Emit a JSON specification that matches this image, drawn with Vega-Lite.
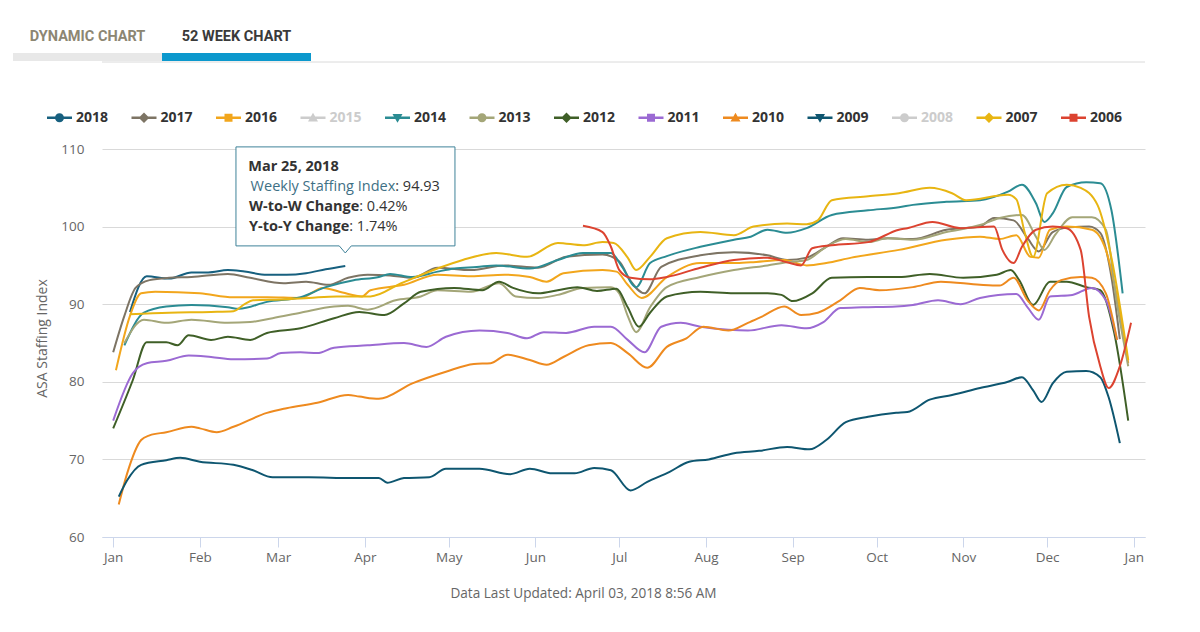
{
  "width": 1043,
  "height": 388,
  "autosize": {"type": "none"},
  "padding": {"left": 102, "top": 149, "right": 55, "bottom": 95},
  "background": "#ffffff",
  "config": {"view": {"stroke": null}, "font": "Open Sans"},
  "datasets": {
    "tabs": [
      {"tab": "DYNAMIC CHART", "active": false},
      {"tab": "52 WEEK CHART", "active": true}
    ],
    "tip": [
      {"day": 83, "v": 94.93, "date": "Mar 25, 2018", "wsiLabel": "Weekly Staffing Index", "wsi": ": 94.93", "wwLabel": "W-to-W Change", "ww": ": 0.42%", "yyLabel": "Y-to-Y Change", "yy": ": 1.74%"}
    ],
    "series": [
      {"year":"2018","day":6,"v":89.0},{"year":"2018","day":12,"v":93.6},{"year":"2018","day":20,"v":93.3},{"year":"2018","day":28,"v":94.1},{"year":"2018","day":34,"v":94.1},{"year":"2018","day":41,"v":94.4},{"year":"2018","day":47,"v":94.2},{"year":"2018","day":55,"v":93.8},{"year":"2018","day":62,"v":93.8},{"year":"2018","day":69,"v":94.0},{"year":"2018","day":76,"v":94.5},{"year":"2018","day":83,"v":94.93},

      {"year":"2017","day":0,"v":83.8},{"year":"2017","day":4,"v":88.5},{"year":"2017","day":8,"v":92.1},{"year":"2017","day":13,"v":93.1},{"year":"2017","day":20,"v":93.4},{"year":"2017","day":28,"v":93.5},{"year":"2017","day":41,"v":93.9},{"year":"2017","day":49,"v":93.4},{"year":"2017","day":61,"v":92.7},{"year":"2017","day":69,"v":92.9},{"year":"2017","day":77,"v":92.5},{"year":"2017","day":84,"v":93.4},{"year":"2017","day":91,"v":93.8},{"year":"2017","day":99,"v":93.7},{"year":"2017","day":107,"v":93.4},{"year":"2017","day":116,"v":94.7},{"year":"2017","day":128,"v":94.4},{"year":"2017","day":140,"v":95.0},{"year":"2017","day":152,"v":94.7},{"year":"2017","day":162,"v":96.1},{"year":"2017","day":175,"v":96.4},{"year":"2017","day":181,"v":95.5},{"year":"2017","day":185,"v":93.0},{"year":"2017","day":190,"v":91.4},{"year":"2017","day":196,"v":94.8},{"year":"2017","day":210,"v":96.3},{"year":"2017","day":222,"v":96.7},{"year":"2017","day":234,"v":96.3},{"year":"2017","day":241,"v":95.7},{"year":"2017","day":248,"v":96.0},{"year":"2017","day":255,"v":97.4},{"year":"2017","day":261,"v":98.5},{"year":"2017","day":270,"v":98.3},{"year":"2017","day":277,"v":98.5},{"year":"2017","day":286,"v":98.4},{"year":"2017","day":298,"v":99.6},{"year":"2017","day":310,"v":100.0},{"year":"2017","day":315,"v":101.1},{"year":"2017","day":322,"v":100.8},{"year":"2017","day":327,"v":98.5},{"year":"2017","day":331,"v":96.8},{"year":"2017","day":336,"v":99.3},{"year":"2017","day":342,"v":99.9},{"year":"2017","day":349,"v":100.0},{"year":"2017","day":353,"v":99.2},{"year":"2017","day":357,"v":93.5},{"year":"2017","day":360,"v":85.5},

      {"year":"2016","day":1,"v":81.5},{"year":"2016","day":6,"v":88.5},{"year":"2016","day":10,"v":91.4},{"year":"2016","day":15,"v":91.6},{"year":"2016","day":31,"v":91.4},{"year":"2016","day":43,"v":90.9},{"year":"2016","day":55,"v":90.9},{"year":"2016","day":67,"v":90.8},{"year":"2016","day":75,"v":92.1},{"year":"2016","day":82,"v":91.5},{"year":"2016","day":89,"v":91.0},{"year":"2016","day":92,"v":91.8},{"year":"2016","day":104,"v":92.5},{"year":"2016","day":116,"v":93.8},{"year":"2016","day":128,"v":93.6},{"year":"2016","day":140,"v":93.8},{"year":"2016","day":149,"v":93.5},{"year":"2016","day":155,"v":92.9},{"year":"2016","day":161,"v":94.0},{"year":"2016","day":175,"v":94.4},{"year":"2016","day":180,"v":94.2},{"year":"2016","day":184,"v":92.5},{"year":"2016","day":189,"v":90.8},{"year":"2016","day":198,"v":93.5},{"year":"2016","day":210,"v":95.3},{"year":"2016","day":222,"v":95.3},{"year":"2016","day":228,"v":95.4},{"year":"2016","day":240,"v":95.7},{"year":"2016","day":248,"v":95.0},{"year":"2016","day":255,"v":95.3},{"year":"2016","day":264,"v":96.0},{"year":"2016","day":281,"v":97.0},{"year":"2016","day":298,"v":98.3},{"year":"2016","day":310,"v":98.7},{"year":"2016","day":317,"v":98.4},{"year":"2016","day":323,"v":98.9},{"year":"2016","day":328,"v":96.1},{"year":"2016","day":331,"v":96.0},{"year":"2016","day":335,"v":99.6},{"year":"2016","day":341,"v":100.0},{"year":"2016","day":350,"v":99.6},{"year":"2016","day":355,"v":97.0},{"year":"2016","day":358,"v":92.7},{"year":"2016","day":363,"v":82.4},

      {"year":"2014","day":4,"v":84.7},{"year":"2014","day":11,"v":88.9},{"year":"2014","day":19,"v":89.7},{"year":"2014","day":28,"v":89.9},{"year":"2014","day":41,"v":89.6},{"year":"2014","day":45,"v":89.4},{"year":"2014","day":55,"v":90.3},{"year":"2014","day":67,"v":90.9},{"year":"2014","day":76,"v":92.2},{"year":"2014","day":86,"v":93.1},{"year":"2014","day":95,"v":93.5},{"year":"2014","day":99,"v":93.9},{"year":"2014","day":107,"v":93.5},{"year":"2014","day":116,"v":94.2},{"year":"2014","day":122,"v":94.6},{"year":"2014","day":130,"v":94.8},{"year":"2014","day":137,"v":95.0},{"year":"2014","day":149,"v":94.6},{"year":"2014","day":159,"v":95.7},{"year":"2014","day":168,"v":96.6},{"year":"2014","day":178,"v":96.6},{"year":"2014","day":182,"v":94.8},{"year":"2014","day":187,"v":92.2},{"year":"2014","day":192,"v":95.3},{"year":"2014","day":198,"v":96.2},{"year":"2014","day":210,"v":97.4},{"year":"2014","day":222,"v":98.3},{"year":"2014","day":228,"v":98.7},{"year":"2014","day":234,"v":99.6},{"year":"2014","day":241,"v":99.2},{"year":"2014","day":248,"v":99.8},{"year":"2014","day":257,"v":101.5},{"year":"2014","day":270,"v":102.1},{"year":"2014","day":281,"v":102.5},{"year":"2014","day":286,"v":102.8},{"year":"2014","day":298,"v":103.2},{"year":"2014","day":310,"v":103.4},{"year":"2014","day":320,"v":104.5},{"year":"2014","day":325,"v":105.4},{"year":"2014","day":330,"v":103.0},{"year":"2014","day":333,"v":100.6},{"year":"2014","day":336,"v":101.7},{"year":"2014","day":341,"v":105.1},{"year":"2014","day":348,"v":105.7},{"year":"2014","day":353,"v":105.6},{"year":"2014","day":357,"v":102.1},{"year":"2014","day":361,"v":91.4},

      {"year":"2013","day":4,"v":85.0},{"year":"2013","day":11,"v":88.0},{"year":"2013","day":19,"v":87.6},{"year":"2013","day":28,"v":88.0},{"year":"2013","day":41,"v":87.6},{"year":"2013","day":49,"v":87.7},{"year":"2013","day":57,"v":88.2},{"year":"2013","day":67,"v":88.9},{"year":"2013","day":79,"v":89.7},{"year":"2013","day":84,"v":89.8},{"year":"2013","day":91,"v":89.3},{"year":"2013","day":101,"v":90.5},{"year":"2013","day":110,"v":91.0},{"year":"2013","day":116,"v":91.8},{"year":"2013","day":128,"v":91.6},{"year":"2013","day":138,"v":92.7},{"year":"2013","day":144,"v":91.0},{"year":"2013","day":152,"v":90.8},{"year":"2013","day":159,"v":91.2},{"year":"2013","day":168,"v":92.1},{"year":"2013","day":178,"v":92.2},{"year":"2013","day":181,"v":91.4},{"year":"2013","day":184,"v":88.5},{"year":"2013","day":187,"v":86.4},{"year":"2013","day":192,"v":89.6},{"year":"2013","day":198,"v":92.2},{"year":"2013","day":210,"v":93.5},{"year":"2013","day":222,"v":94.4},{"year":"2013","day":234,"v":95.0},{"year":"2013","day":241,"v":95.4},{"year":"2013","day":248,"v":95.7},{"year":"2013","day":255,"v":97.4},{"year":"2013","day":262,"v":98.4},{"year":"2013","day":270,"v":98.0},{"year":"2013","day":277,"v":98.5},{"year":"2013","day":286,"v":98.3},{"year":"2013","day":298,"v":99.3},{"year":"2013","day":310,"v":100.2},{"year":"2013","day":317,"v":101.1},{"year":"2013","day":325,"v":101.5},{"year":"2013","day":330,"v":98.7},{"year":"2013","day":333,"v":97.0},{"year":"2013","day":337,"v":99.0},{"year":"2013","day":343,"v":101.2},{"year":"2013","day":350,"v":101.2},{"year":"2013","day":355,"v":99.6},{"year":"2013","day":359,"v":90.0},{"year":"2013","day":363,"v":82.0},

      {"year":"2012","day":0,"v":74.0},{"year":"2012","day":7,"v":80.2},{"year":"2012","day":12,"v":85.1},{"year":"2012","day":19,"v":85.1},{"year":"2012","day":23,"v":84.7},{"year":"2012","day":27,"v":86.0},{"year":"2012","day":35,"v":85.4},{"year":"2012","day":41,"v":85.8},{"year":"2012","day":49,"v":85.4},{"year":"2012","day":55,"v":86.3},{"year":"2012","day":67,"v":86.9},{"year":"2012","day":79,"v":88.2},{"year":"2012","day":88,"v":89.0},{"year":"2012","day":97,"v":88.6},{"year":"2012","day":104,"v":90.1},{"year":"2012","day":110,"v":91.6},{"year":"2012","day":122,"v":92.1},{"year":"2012","day":132,"v":91.8},{"year":"2012","day":138,"v":92.9},{"year":"2012","day":143,"v":92.1},{"year":"2012","day":152,"v":91.4},{"year":"2012","day":159,"v":91.8},{"year":"2012","day":166,"v":92.2},{"year":"2012","day":173,"v":91.7},{"year":"2012","day":180,"v":92.0},{"year":"2012","day":184,"v":89.6},{"year":"2012","day":188,"v":87.1},{"year":"2012","day":192,"v":88.9},{"year":"2012","day":198,"v":91.0},{"year":"2012","day":210,"v":91.6},{"year":"2012","day":222,"v":91.4},{"year":"2012","day":234,"v":91.4},{"year":"2012","day":239,"v":91.2},{"year":"2012","day":243,"v":90.4},{"year":"2012","day":250,"v":91.4},{"year":"2012","day":257,"v":93.4},{"year":"2012","day":270,"v":93.5},{"year":"2012","day":281,"v":93.5},{"year":"2012","day":292,"v":93.9},{"year":"2012","day":304,"v":93.4},{"year":"2012","day":316,"v":93.8},{"year":"2012","day":321,"v":94.4},{"year":"2012","day":324,"v":93.1},{"year":"2012","day":329,"v":89.9},{"year":"2012","day":335,"v":92.9},{"year":"2012","day":341,"v":92.9},{"year":"2012","day":348,"v":92.2},{"year":"2012","day":353,"v":91.8},{"year":"2012","day":358,"v":86.3},{"year":"2012","day":363,"v":75.0},

      {"year":"2011","day":0,"v":75.0},{"year":"2011","day":7,"v":81.1},{"year":"2011","day":12,"v":82.4},{"year":"2011","day":19,"v":82.7},{"year":"2011","day":27,"v":83.4},{"year":"2011","day":35,"v":83.2},{"year":"2011","day":43,"v":82.9},{"year":"2011","day":55,"v":83.0},{"year":"2011","day":60,"v":83.7},{"year":"2011","day":67,"v":83.8},{"year":"2011","day":73,"v":83.7},{"year":"2011","day":79,"v":84.4},{"year":"2011","day":91,"v":84.7},{"year":"2011","day":104,"v":85.0},{"year":"2011","day":112,"v":84.5},{"year":"2011","day":119,"v":85.8},{"year":"2011","day":131,"v":86.6},{"year":"2011","day":141,"v":86.3},{"year":"2011","day":148,"v":85.6},{"year":"2011","day":154,"v":86.4},{"year":"2011","day":162,"v":86.3},{"year":"2011","day":172,"v":87.1},{"year":"2011","day":178,"v":87.1},{"year":"2011","day":184,"v":85.4},{"year":"2011","day":190,"v":83.8},{"year":"2011","day":196,"v":87.1},{"year":"2011","day":203,"v":87.6},{"year":"2011","day":210,"v":87.1},{"year":"2011","day":220,"v":86.7},{"year":"2011","day":227,"v":86.6},{"year":"2011","day":239,"v":87.3},{"year":"2011","day":248,"v":86.9},{"year":"2011","day":254,"v":87.7},{"year":"2011","day":260,"v":89.5},{"year":"2011","day":268,"v":89.6},{"year":"2011","day":280,"v":89.7},{"year":"2011","day":286,"v":89.9},{"year":"2011","day":295,"v":90.5},{"year":"2011","day":303,"v":90.0},{"year":"2011","day":310,"v":90.8},{"year":"2011","day":323,"v":91.3},{"year":"2011","day":327,"v":89.6},{"year":"2011","day":331,"v":88.0},{"year":"2011","day":335,"v":91.0},{"year":"2011","day":343,"v":91.2},{"year":"2011","day":350,"v":92.1},{"year":"2011","day":355,"v":90.5},{"year":"2011","day":359,"v":85.4},

      {"year":"2010","day":2,"v":64.2},{"year":"2010","day":5,"v":68.2},{"year":"2010","day":10,"v":72.5},{"year":"2010","day":13,"v":73.1},{"year":"2010","day":19,"v":73.5},{"year":"2010","day":28,"v":74.2},{"year":"2010","day":31,"v":74.0},{"year":"2010","day":37,"v":73.5},{"year":"2010","day":43,"v":74.2},{"year":"2010","day":55,"v":76.0},{"year":"2010","day":62,"v":76.6},{"year":"2010","day":73,"v":77.3},{"year":"2010","day":84,"v":78.3},{"year":"2010","day":88,"v":78.1},{"year":"2010","day":95,"v":77.8},{"year":"2010","day":107,"v":79.8},{"year":"2010","day":119,"v":81.3},{"year":"2010","day":129,"v":82.3},{"year":"2010","day":135,"v":82.4},{"year":"2010","day":141,"v":83.5},{"year":"2010","day":149,"v":82.8},{"year":"2010","day":155,"v":82.2},{"year":"2010","day":161,"v":83.2},{"year":"2010","day":170,"v":84.7},{"year":"2010","day":178,"v":85.0},{"year":"2010","day":184,"v":83.7},{"year":"2010","day":191,"v":81.8},{"year":"2010","day":198,"v":84.5},{"year":"2010","day":205,"v":85.6},{"year":"2010","day":211,"v":87.1},{"year":"2010","day":220,"v":86.6},{"year":"2010","day":227,"v":87.6},{"year":"2010","day":232,"v":88.4},{"year":"2010","day":240,"v":89.7},{"year":"2010","day":246,"v":88.6},{"year":"2010","day":252,"v":88.9},{"year":"2010","day":260,"v":90.5},{"year":"2010","day":267,"v":92.1},{"year":"2010","day":274,"v":91.8},{"year":"2010","day":286,"v":92.2},{"year":"2010","day":296,"v":92.9},{"year":"2010","day":310,"v":92.5},{"year":"2010","day":317,"v":92.4},{"year":"2010","day":322,"v":93.4},{"year":"2010","day":327,"v":90.5},{"year":"2010","day":331,"v":89.2},{"year":"2010","day":335,"v":91.8},{"year":"2010","day":339,"v":93.1},{"year":"2010","day":346,"v":93.5},{"year":"2010","day":350,"v":93.4},{"year":"2010","day":355,"v":91.4},{"year":"2010","day":359,"v":85.4},

      {"year":"2009","day":2,"v":65.2},{"year":"2009","day":5,"v":67.3},{"year":"2009","day":10,"v":69.3},{"year":"2009","day":19,"v":69.9},{"year":"2009","day":24,"v":70.2},{"year":"2009","day":31,"v":69.7},{"year":"2009","day":43,"v":69.3},{"year":"2009","day":50,"v":68.6},{"year":"2009","day":57,"v":67.7},{"year":"2009","day":70,"v":67.7},{"year":"2009","day":85,"v":67.6},{"year":"2009","day":95,"v":67.6},{"year":"2009","day":98,"v":67.0},{"year":"2009","day":104,"v":67.6},{"year":"2009","day":113,"v":67.7},{"year":"2009","day":119,"v":68.8},{"year":"2009","day":131,"v":68.8},{"year":"2009","day":142,"v":68.1},{"year":"2009","day":149,"v":68.8},{"year":"2009","day":157,"v":68.2},{"year":"2009","day":165,"v":68.2},{"year":"2009","day":172,"v":68.9},{"year":"2009","day":178,"v":68.6},{"year":"2009","day":185,"v":66.0},{"year":"2009","day":191,"v":67.1},{"year":"2009","day":199,"v":68.4},{"year":"2009","day":206,"v":69.7},{"year":"2009","day":213,"v":70.0},{"year":"2009","day":222,"v":70.8},{"year":"2009","day":231,"v":71.1},{"year":"2009","day":241,"v":71.6},{"year":"2009","day":249,"v":71.3},{"year":"2009","day":255,"v":72.5},{"year":"2009","day":262,"v":74.8},{"year":"2009","day":270,"v":75.5},{"year":"2009","day":280,"v":76.0},{"year":"2009","day":284,"v":76.1},{"year":"2009","day":292,"v":77.7},{"year":"2009","day":300,"v":78.3},{"year":"2009","day":310,"v":79.2},{"year":"2009","day":320,"v":80.0},{"year":"2009","day":325,"v":80.6},{"year":"2009","day":329,"v":78.9},{"year":"2009","day":332,"v":77.4},{"year":"2009","day":336,"v":79.8},{"year":"2009","day":341,"v":81.3},{"year":"2009","day":348,"v":81.4},{"year":"2009","day":353,"v":80.6},{"year":"2009","day":356,"v":78.0},{"year":"2009","day":360,"v":72.1},

      {"year":"2007","day":6,"v":88.7},{"year":"2007","day":20,"v":88.9},{"year":"2007","day":35,"v":89.0},{"year":"2007","day":43,"v":89.1},{"year":"2007","day":47,"v":90.0},{"year":"2007","day":50,"v":90.5},{"year":"2007","day":60,"v":90.6},{"year":"2007","day":70,"v":90.8},{"year":"2007","day":80,"v":91.0},{"year":"2007","day":92,"v":91.0},{"year":"2007","day":103,"v":92.7},{"year":"2007","day":116,"v":94.6},{"year":"2007","day":125,"v":95.7},{"year":"2007","day":137,"v":96.6},{"year":"2007","day":148,"v":96.1},{"year":"2007","day":159,"v":97.9},{"year":"2007","day":168,"v":97.6},{"year":"2007","day":175,"v":98.0},{"year":"2007","day":179,"v":97.9},{"year":"2007","day":184,"v":96.0},{"year":"2007","day":187,"v":94.4},{"year":"2007","day":192,"v":96.1},{"year":"2007","day":198,"v":98.5},{"year":"2007","day":210,"v":99.3},{"year":"2007","day":222,"v":98.9},{"year":"2007","day":229,"v":100.0},{"year":"2007","day":241,"v":100.4},{"year":"2007","day":248,"v":100.3},{"year":"2007","day":252,"v":100.8},{"year":"2007","day":257,"v":103.4},{"year":"2007","day":270,"v":103.9},{"year":"2007","day":281,"v":104.3},{"year":"2007","day":292,"v":105.0},{"year":"2007","day":300,"v":104.3},{"year":"2007","day":305,"v":103.4},{"year":"2007","day":320,"v":104.1},{"year":"2007","day":323,"v":103.5},{"year":"2007","day":326,"v":99.2},{"year":"2007","day":329,"v":96.1},{"year":"2007","day":334,"v":104.3},{"year":"2007","day":341,"v":105.4},{"year":"2007","day":346,"v":105.0},{"year":"2007","day":352,"v":102.8},{"year":"2007","day":357,"v":96.0},{"year":"2007","day":363,"v":82.8},

      {"year":"2006","day":168,"v":100.1},{"year":"2006","day":175,"v":99.3},{"year":"2006","day":178,"v":97.4},{"year":"2006","day":181,"v":94.4},{"year":"2006","day":185,"v":93.4},{"year":"2006","day":192,"v":93.2},{"year":"2006","day":198,"v":93.5},{"year":"2006","day":210,"v":94.7},{"year":"2006","day":222,"v":95.7},{"year":"2006","day":234,"v":96.0},{"year":"2006","day":241,"v":95.4},{"year":"2006","day":246,"v":95.0},{"year":"2006","day":250,"v":97.2},{"year":"2006","day":257,"v":97.6},{"year":"2006","day":270,"v":98.0},{"year":"2006","day":281,"v":99.6},{"year":"2006","day":284,"v":99.8},{"year":"2006","day":293,"v":100.6},{"year":"2006","day":303,"v":99.8},{"year":"2006","day":315,"v":100.0},{"year":"2006","day":318,"v":97.0},{"year":"2006","day":322,"v":95.3},{"year":"2006","day":325,"v":97.4},{"year":"2006","day":330,"v":99.6},{"year":"2006","day":336,"v":100.0},{"year":"2006","day":341,"v":99.8},{"year":"2006","day":346,"v":97.0},{"year":"2006","day":349,"v":88.4},{"year":"2006","day":353,"v":82.0},{"year":"2006","day":356,"v":79.2},{"year":"2006","day":360,"v":82.0},{"year":"2006","day":364,"v":87.6}
    ]
  },
  "resolve": {"scale": {"x": "independent", "y": "independent"}},
  "layer": [
    {
      "data": {"name": "series"},
      "encoding": {
        "x": {
          "field": "day", "type": "quantitative",
          "scale": {"domain": [-4, 369], "nice": false, "zero": false},
          "axis": {
            "orient": "bottom",
            "values": [0, 31, 59, 90, 120, 151, 181, 212, 243, 273, 304, 334, 365],
            "labelExpr": "['Jan','Feb','Mar','Apr','May','Jun','Jul','Aug','Sep','Oct','Nov','Dec','Jan'][indexof([0,31,59,90,120,151,181,212,243,273,304,334,365], datum.value)]",
            "grid": false,
            "domainColor": "#ccd6eb", "tickColor": "#ccd6eb", "tickSize": 10,
            "labelPadding": 3, "labelFontSize": 13.5, "labelColor": "#666666", "labelFlush": false,
            "title": "Data Last Updated: April 03, 2018 8:56 AM",
            "titleX": 481, "titleY": 56, "titleAlign": "center", "titleBaseline": "middle",
            "titleFontSize": 13.6, "titleFontWeight": "normal", "titleColor": "#666666"
          }
        },
        "y": {
          "field": "v", "type": "quantitative",
          "scale": {"domain": [60, 110], "nice": false, "zero": false},
          "axis": {
            "orient": "left",
            "values": [60, 70, 80, 90, 100, 110],
            "grid": true, "gridColor": "#d9d9d9",
            "domain": false, "ticks": false,
            "labelPadding": 18, "labelFontSize": 13.5, "labelColor": "#666666",
            "title": "ASA Staffing Index",
            "titleX": -60, "titleY": 189, "titleAngle": -90, "titleAlign": "center", "titleBaseline": "middle",
            "titleFontSize": 14, "titleFontWeight": "normal", "titleColor": "#666666"
          }
        }
      },
      "layer": [
        {
          "mark": {"type": "line", "strokeWidth": 2, "interpolate": "monotone"},
          "encoding": {
            "color": {
              "field": "year", "type": "nominal",
              "scale": {
                "domain": ["2018","2017","2016","2015","2014","2013","2012","2011","2010","2009","2008","2007","2006"],
                "range": ["#17607f","#7d7464","#f2a61c","#cccccc","#2b8c93","#a4a678","#3f5f27","#9b6ad3","#ee8a1f","#0e5670","#cccccc","#e8b512","#dc4330"]
              },
              "legend": {
                "orient": "none", "legendX": -55, "legendY": -44, "direction": "horizontal", "columns": 13,
                "title": null, "padding": 0, "symbolSize": 625, "symbolStrokeWidth": 0, "symbolOpacity": 1,
                "labelFontSize": 14, "labelFontWeight": "bold", "labelColor": "#333333", "labelFont": "Open Sans",
                "labelOffset": 4, "columnPadding": 22.5, "gridAlign": "all",
                "encode": {
                  "labels": {"update": {"fill": {"signal": "indexof(['2015','2008'], datum.value) >= 0 ? '#cccccc' : '#333333'"}}},
                  "symbols": {"update": {
                    "fill": {"scale": "color", "field": "value"},
                    "stroke": {"value": "transparent"},
                    "strokeWidth": {"value": 0},
                    "opacity": {"value": 1},
                    "size": {"value": 625},
                    "shape": {"signal": "['M-1,-0.1H1V0.1H-1Z M-0.36,0A0.36,0.36 0 1,1 0.36,0A0.36,0.36 0 1,1 -0.36,0Z','M-1,-0.1H1V0.1H-1Z M0,-0.42L0.42,0L0,0.42L-0.42,0Z','M-1,-0.1H1V0.1H-1Z M-0.32,-0.32H0.32V0.32H-0.32Z','M-1,-0.1H1V0.1H-1Z M0,-0.4L0.4,0.3H-0.4Z','M-1,-0.1H1V0.1H-1Z M-0.4,-0.3H0.4L0,0.4Z'][indexof(['2018','2017','2016','2015','2014','2013','2012','2011','2010','2009','2008','2007','2006'], datum.value) % 5]"}
                  }}
                }
              }
            }
          }
        },
        {
          "data": {"name": "tip"},
          "mark": {"type": "point", "shape": "M-0.911,-0.992H0.914V-0.167H0.05L0,-0.108L-0.05,-0.167H-0.911Z", "size": 57600, "filled": true, "fill": "#ffffff", "fillOpacity": 0.96, "stroke": "#3f8299", "strokeWidth": 1, "opacity": 1}
        },
        {
          "data": {"name": "tip"},
          "mark": {"type": "text", "align": "left", "baseline": "middle", "dx": -97, "dy": -99, "fontSize": 14.5, "fontWeight": "bold", "color": "#333333"},
          "encoding": {"text": {"field": "date"}}
        },
        {
          "data": {"name": "tip"},
          "mark": {"type": "text", "align": "right", "baseline": "middle", "dx": 50, "dy": -79, "fontSize": 14.5, "color": "#3e7085"},
          "encoding": {"text": {"field": "wsiLabel"}}
        },
        {
          "data": {"name": "tip"},
          "mark": {"type": "text", "align": "left", "baseline": "middle", "dx": 50, "dy": -79, "fontSize": 14.5, "color": "#333333"},
          "encoding": {"text": {"field": "wsi"}}
        },
        {
          "data": {"name": "tip"},
          "mark": {"type": "text", "align": "right", "baseline": "middle", "dx": 14, "dy": -59, "fontSize": 14.5, "fontWeight": "bold", "color": "#333333"},
          "encoding": {"text": {"field": "wwLabel"}}
        },
        {
          "data": {"name": "tip"},
          "mark": {"type": "text", "align": "left", "baseline": "middle", "dx": 14, "dy": -59, "fontSize": 14.5, "color": "#333333"},
          "encoding": {"text": {"field": "ww"}}
        },
        {
          "data": {"name": "tip"},
          "mark": {"type": "text", "align": "right", "baseline": "middle", "dx": 4, "dy": -39, "fontSize": 14.5, "fontWeight": "bold", "color": "#333333"},
          "encoding": {"text": {"field": "yyLabel"}}
        },
        {
          "data": {"name": "tip"},
          "mark": {"type": "text", "align": "left", "baseline": "middle", "dx": 4, "dy": -39, "fontSize": 14.5, "color": "#333333"},
          "encoding": {"text": {"field": "yy"}}
        }
      ]
    },
    {
      "data": {"name": "tabs"},
      "layer": [
        {
          "mark": {"type": "rule", "color": "#e6e6e6", "strokeWidth": 1},
          "encoding": {
            "y": {"datum": 0, "type": "quantitative", "scale": {"domain": [0, 1], "range": [-87, -96], "nice": false, "zero": false}, "axis": null}
          }
        },
        {
          "mark": {"type": "bar"},
          "encoding": {
            "x": {"field": "tab", "type": "nominal", "scale": {"type": "band", "domain": ["DYNAMIC CHART", "52 WEEK CHART"], "range": [-89, 209], "paddingInner": 0, "paddingOuter": 0}, "axis": null},
            "y": {"datum": 0.1, "type": "quantitative", "scale": {"domain": [0, 1], "range": [-87, -96], "nice": false, "zero": false}, "axis": null},
            "y2": {"datum": 1},
            "color": {"condition": {"test": "datum.active", "value": "#0b98cd"}, "value": "#e8e8e8"}
          }
        },
        {
          "mark": {"type": "text", "baseline": "middle", "align": "center", "font": "Roboto", "fontWeight": "bold", "fontSize": 14.5},
          "encoding": {
            "x": {"field": "tab", "type": "nominal", "scale": {"type": "band", "domain": ["DYNAMIC CHART", "52 WEEK CHART"], "range": [-89, 209], "paddingInner": 0, "paddingOuter": 0}, "axis": null},
            "y": {"datum": 2.8, "type": "quantitative", "scale": {"domain": [0, 1], "range": [-87, -96], "nice": false, "zero": false}, "axis": null},
            "text": {"field": "tab"},
            "color": {"condition": {"test": "datum.active", "value": "#3a3a3a"}, "value": "#8c8672"}
          }
        }
      ]
    }
  ]
}
